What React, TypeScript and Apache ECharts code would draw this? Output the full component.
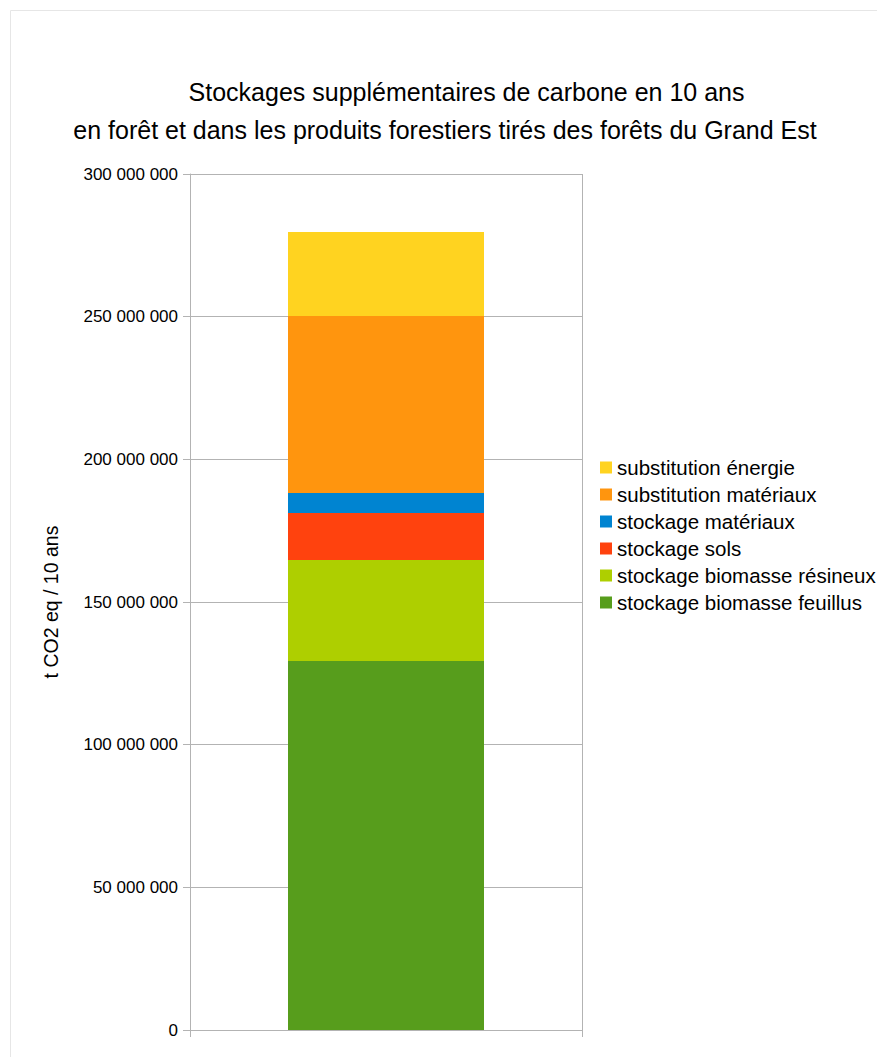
import React, { useEffect, useRef } from "react";
import * as echarts from "echarts";

const categories = [""];
const seriesNames = [
  "stockage biomasse feuillus",
  "stockage biomasse résineux",
  "stockage sols",
  "stockage matériaux",
  "substitution matériaux",
  "substitution énergie",
];
const seriesValues = [
  [129300000],
  [35400000],
  [16500000],
  [7000000],
  [62000000],
  [29500000],
];
const seriesColors = ["#579d1c", "#aecf00", "#ff420e", "#0084d1", "#ff950e", "#ffd320"];
const titleLines = [
  "Stockages supplémentaires de carbone en 10 ans",
  "en forêt et dans les produits forestiers tirés des forêts du Grand Est",
];
const yAxisName = "t CO2 eq / 10 ans";

const FONT = "'Liberation Sans', Arial, sans-serif";

function fmt(v: number): string {
  return String(Math.round(v)).replace(/\B(?=(\d{3})+(?!\d))/g, " ");
}

export default function App() {
  const ref = useRef<HTMLDivElement>(null);
  useEffect(() => {
    if (!ref.current) return;
    const chart = echarts.init(ref.current, undefined, { renderer: "svg" });
    const gray = "#b3b3b3";
    chart.setOption({
      animation: false,
      backgroundColor: "#ffffff",
      textStyle: { fontFamily: FONT },
      grid: { left: 190, right: 295, top: 174, bottom: 27, containLabel: false },
      legend: {
        orient: "vertical",
        left: 600,
        top: 457,
        padding: 0,
        itemWidth: 12,
        itemHeight: 12,
        itemGap: 6,
        icon: "rect",
        data: [...seriesNames].reverse(),
        textStyle: { fontFamily: FONT, fontSize: 20.5, color: "#000", lineHeight: 20 },
      },
      xAxis: {
        type: "category",
        data: categories,
        boundaryGap: true,
        axisLine: { show: true, lineStyle: { color: gray, width: 1 } },
        axisTick: { show: true, length: 7, lineStyle: { color: gray } },
        axisLabel: { show: false },
        splitLine: { show: true, lineStyle: { color: gray, width: 1 } },
      },
      yAxis: {
        type: "value",
        min: 0,
        max: 300000000,
        interval: 50000000,
        axisLine: { show: true, lineStyle: { color: gray, width: 1 } },
        axisTick: { show: true, length: 7, lineStyle: { color: gray } },
        axisLabel: {
          margin: 12,
          fontFamily: FONT,
          fontSize: 17,
          color: "#000",
          formatter: (v: number) => fmt(v),
        },
        splitLine: { show: true, lineStyle: { color: gray, width: 1 } },
      },
      series: seriesNames.map((name, i) => ({
        name,
        type: "bar",
        stack: "total",
        barWidth: "50%",
        data: seriesValues[i],
        itemStyle: { color: seriesColors[i] },
      })),
      graphic: [
        {
          type: "rect",
          shape: { x: 10.5, y: 10.5, width: 900, height: 1100 },
          style: { fill: "none", stroke: "#e6e6e6", lineWidth: 1 },
          silent: true,
        },
        {
          type: "text",
          x: 466.5,
          y: 92,
          style: {
            text: titleLines[0],
            fontFamily: FONT,
            fontSize: 25,
            fill: "#000",
            align: "center",
            verticalAlign: "middle",
          },
        },
        {
          type: "text",
          x: 445,
          y: 130,
          style: {
            text: titleLines[1],
            fontFamily: FONT,
            fontSize: 25,
            fill: "#000",
            align: "center",
            verticalAlign: "middle",
          },
        },
        {
          type: "text",
          x: 51,
          y: 602,
          rotation: Math.PI / 2,
          style: {
            text: yAxisName,
            fontFamily: FONT,
            fontSize: 19.5,
            fill: "#000",
            align: "center",
            verticalAlign: "middle",
          },
        },
      ],
    });
    return () => chart.dispose();
  }, []);
  return (
    <div
      ref={ref}
      style={{ position: "absolute", left: 0, top: 0, width: 877, height: 1057 }}
    />
  );
}
